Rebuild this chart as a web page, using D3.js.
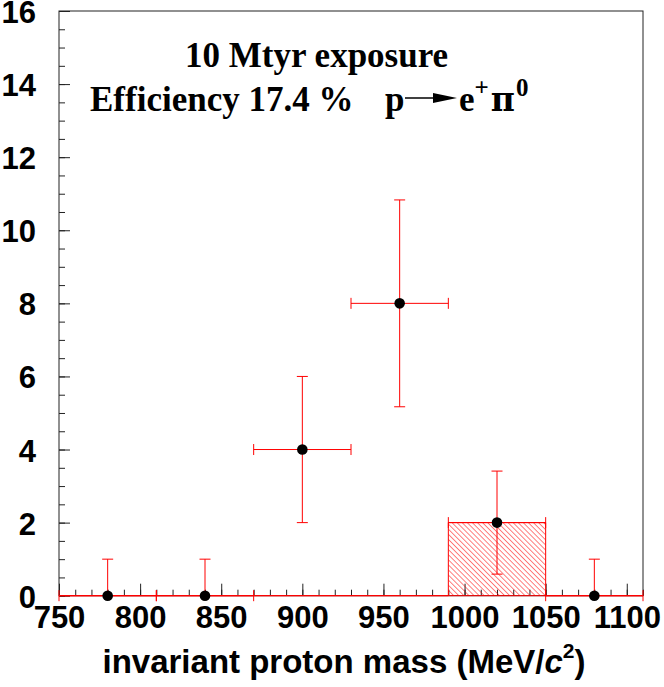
<!DOCTYPE html>
<html>
<head>
<meta charset="utf-8">
<script src="https://cdn.jsdelivr.net/npm/d3@7"></script>
<style>
  body { margin: 0; background: #fff; }
  svg { display: block; }
</style>
</head>
<body>
<div id="chart"></div>
<script>
// bin edges and contents
const binEdges = [750, 810, 870, 930, 990, 1050, 1110];
const binCenters = [780, 840, 900, 960, 1020, 1080];
const counts = [0, 0, 4, 8, 2, 0];
const errUp = [1, 1, 2, 2.83, 1.41, 1];
const errDown = [0, 0, 2, 2.83, 1.41, 0];

// hatched (expected signal) histogram, one value per bin
const signalCounts = [0, 0, 0, 0, 2, 0];

const xTicks = [750, 800, 850, 900, 950, 1000, 1050, 1100];
const xMinorTicks = d3.range(750, 1111, 10);
const yTicks = [0, 2, 4, 6, 8, 10, 12, 14, 16];
const yMinorTicks = d3.range(0, 16.01, 0.5);

const width = 664, height = 687;
const margin = { left: 59, right: 643, top: 11, bottom: 595.7 };

const svg = d3.select("#chart")
    .append("svg")
    .attr("width", width)
    .attr("height", height);

const x = d3.scaleLinear().domain([750, 1110]).range([margin.left, margin.right]);
const y = d3.scaleLinear().domain([0, 16]).range([margin.bottom, margin.top]);

// frame
svg.append("rect")
    .attr("x", margin.left)
    .attr("y", margin.top)
    .attr("width", margin.right - margin.left)
    .attr("height", margin.bottom - margin.top)
    .attr("fill", "none")
    .attr("stroke", "#222")
    .attr("stroke-width", 1);

// x axis: minor then major ticks pointing inward
const axisFont = "'Liberation Sans', Arial, Helvetica, sans-serif";

svg.append("g")
    .attr("transform", `translate(0,${margin.bottom})`)
    .call(d3.axisBottom(x).tickValues(xMinorTicks).tickSizeInner(-6).tickSizeOuter(0).tickFormat(""))
    .call(g => g.select(".domain").remove())
    .selectAll("line").attr("stroke", "#222");

svg.append("g")
    .attr("transform", `translate(0,${margin.bottom})`)
    .call(d3.axisBottom(x).tickValues(xTicks).tickSizeInner(-12).tickSizeOuter(0).tickPadding(10).tickFormat(d3.format("d")))
    .call(g => g.select(".domain").remove())
    .call(g => g.selectAll("line").attr("stroke", "#222"))
    .selectAll("text")
    .attr("fill", "#000")
    .style("font-family", axisFont)
    .style("font-weight", "bold")
    .style("font-size", "31px");

// y axis
svg.append("g")
    .attr("transform", `translate(${margin.left},0)`)
    .call(d3.axisLeft(y).tickValues(yMinorTicks).tickSizeInner(-6).tickSizeOuter(0).tickFormat(""))
    .call(g => g.select(".domain").remove())
    .selectAll("line").attr("stroke", "#222");

svg.append("g")
    .attr("transform", `translate(${margin.left},0)`)
    .call(d3.axisLeft(y).tickValues(yTicks).tickSizeInner(-11).tickSizeOuter(0).tickPadding(23).tickFormat(d3.format("d")))
    .call(g => g.select(".domain").remove())
    .call(g => g.selectAll("line").attr("stroke", "#222"))
    .selectAll("text")
    .attr("fill", "#000")
    .attr("dy", "0.37em")
    .style("font-family", axisFont)
    .style("font-weight", "bold")
    .style("font-size", "31px");

// hatch pattern
svg.append("defs")
    .append("pattern")
    .attr("id", "hatch")
    .attr("patternUnits", "userSpaceOnUse")
    .attr("width", 3.6)
    .attr("height", 3.6)
    .attr("patternTransform", "rotate(-45)")
    .append("line")
    .attr("x1", 0).attr("y1", 0)
    .attr("x2", 0).attr("y2", 3.6)
    .attr("stroke", "red")
    .attr("stroke-width", 1);

// signal histogram as a step area
const stepData = binEdges.map((e, i) => ({ edge: e, v: i < signalCounts.length ? signalCounts[i] : 0 }));

svg.append("path")
    .datum(stepData)
    .attr("fill", "url(#hatch)")
    .attr("stroke", "red")
    .attr("stroke-width", 1)
    .attr("d", d3.area()
        .curve(d3.curveStepAfter)
        .x(d => x(d.edge))
        .y0(y(0))
        .y1(d => y(d.v)));

// error bars
const capHalf = 5.5;
const bins = binCenters.map((c, i) => ({
    c, lo: binEdges[i], hi: binEdges[i + 1],
    n: counts[i], up: errUp[i], down: errDown[i]
}));

const eb = svg.append("g")
    .attr("stroke", "red")
    .attr("stroke-width", 1)
    .attr("fill", "none");

bins.forEach(b => {
    // vertical bar
    eb.append("line")
        .attr("x1", x(b.c)).attr("x2", x(b.c))
        .attr("y1", y(b.n - b.down)).attr("y2", y(b.n + b.up));
    eb.append("line")
        .attr("x1", x(b.c) - capHalf).attr("x2", x(b.c) + capHalf)
        .attr("y1", y(b.n + b.up)).attr("y2", y(b.n + b.up));
    if (b.down > 0) {
        eb.append("line")
            .attr("x1", x(b.c) - capHalf).attr("x2", x(b.c) + capHalf)
            .attr("y1", y(b.n - b.down)).attr("y2", y(b.n - b.down));
    }
    // horizontal bar with end caps
    eb.append("line")
        .attr("x1", x(b.lo)).attr("x2", x(b.hi))
        .attr("y1", y(b.n)).attr("y2", y(b.n));
    [b.lo, b.hi].forEach(e => {
        eb.append("line")
            .attr("x1", x(e)).attr("x2", x(e))
            .attr("y1", y(b.n) - capHalf).attr("y2", y(b.n) + capHalf);
    });
});

// data points
svg.append("g")
    .selectAll("circle")
    .data(bins)
    .join("circle")
    .attr("cx", d => x(d.c))
    .attr("cy", d => y(d.n))
    .attr("r", 5.3)
    .attr("fill", "#000");

// x axis title
const title = svg.append("text")
    .attr("x", 344)
    .attr("y", 673)
    .attr("text-anchor", "middle")
    .style("font-family", axisFont)
    .style("font-weight", "bold")
    .style("font-size", "33px");
title.append("tspan").text("invariant proton mass (MeV/");
title.append("tspan").style("font-style", "italic").text("c");
title.append("tspan").attr("dx", 0).attr("dy", -15).style("font-size", "21px").text("2");
title.append("tspan").attr("dy", 15).text(")");

// annotations
const serif = "'Liberation Serif', 'Times New Roman', serif";

svg.append("text")
    .attr("x", 185)
    .attr("y", 67)
    .style("font-family", serif)
    .style("font-weight", "bold")
    .style("font-size", "35px")
    .text("10 Mtyr exposure");

svg.append("text")
    .attr("x", 90)
    .attr("y", 111)
    .style("font-family", serif)
    .style("font-weight", "bold")
    .style("font-size", "35px")
    .text("Efficiency 17.4 %");

const proc = svg.append("g")
    .style("font-family", serif)
    .style("font-weight", "bold")
    .style("font-size", "35px");
proc.append("text").attr("x", 385).attr("y", 111).text("p");
proc.append("line")
    .attr("x1", 405).attr("x2", 436)
    .attr("y1", 98).attr("y2", 98)
    .attr("stroke", "#000").attr("stroke-width", 1.5);
proc.append("path")
    .attr("d", "M433,93 L457,98 L433,103 Z")
    .attr("fill", "#000");
const ep = proc.append("text").attr("x", 459).attr("y", 111);
ep.append("tspan").text("e");
ep.append("tspan").attr("dy", -15).style("font-size", "25px").text("+");
ep.append("tspan").attr("dy", 15).attr("dx", 2)
    .style("font-family", "'DejaVu Serif', serif").style("font-size", "33px").text("π");
ep.append("tspan").attr("dy", -15).attr("dx", 1).style("font-size", "25px").text("0");
</script>
</body>
</html>
